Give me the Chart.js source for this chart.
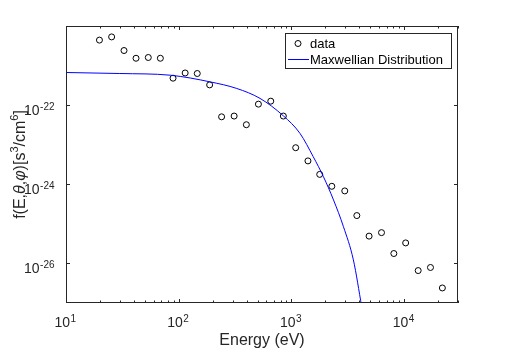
<!DOCTYPE html>
<html>
<head>
<meta charset="utf-8">
<script src="https://cdn.jsdelivr.net/npm/chart.js@4.4.1/dist/chart.umd.min.js"></script>
<style>
  html, body { margin: 0; padding: 0; background: #fff; }
  #wrap { width: 506px; height: 350px; }
</style>
</head>
<body>
<div id="wrap"><canvas id="chart" width="506" height="350"></canvas></div>
<script>
// measured points (eV, s^3/cm^6)
const energy = [19.8, 25.4, 32.7, 41.8, 53.7, 68.7, 89.0, 114, 146, 188, 240, 310, 398, 509, 655, 847,
  1090, 1400, 1780, 2280, 2970, 3800, 4880, 6290, 8090, 10300, 13300, 17100, 21800];
const flux = [4.4e-21, 5.3e-21, 2.4e-21, 1.53e-21, 1.6e-21, 1.53e-21, 4.8e-22, 6.5e-22, 6.3e-22, 3.25e-22,
  5.07e-23, 5.3e-23, 3.2e-23, 1.06e-22, 1.26e-22, 5.3e-23, 8.4e-24, 3.9e-24, 1.78e-24, 8.9e-25, 6.8e-25,
  1.62e-25, 4.9e-26, 6.0e-26, 1.78e-26, 3.3e-26, 6.6e-27, 7.9e-27, 2.4e-27];

// maxwellian curve
const fitEnergy = [10, 30, 84, 190, 327, 526, 847, 1190, 1560, 1920, 2360, 2890, 3540, 4200];
const fitFlux = [6.68e-22, 6.3e-22, 5.71e-22, 3.87e-22, 2.64e-22, 1.48e-22, 5.37e-23, 1.93e-23, 4.97e-24,
  1.56e-24, 4.02e-25, 8.5e-26, 1.23e-26, 8e-28];

const xTicks = [10, 100, 1000, 10000];
const xTickExp = ['1', '2', '3', '4'];
const yTicks = [1e-26, 1e-24, 1e-22];
const yTickExp = ['-26', '-24', '-22'];
const seriesNames = ['data', 'Maxwellian Distribution'];

const axisColor = '#262626';
const fontFam = '"Liberation Sans", Arial, Helvetica, sans-serif';

const toPoints = (xs, ys) => xs.map((x, i) => ({ x: x, y: ys[i] }));

// draws "10" with a raised exponent, anchored by align
let drawPower = (ctx, exp, x, y, align) => {
  ctx.font = '14px ' + fontFam;
  const wBase = ctx.measureText('10').width;
  ctx.font = '10px ' + fontFam;
  const wExp = ctx.measureText(exp).width;
  const total = wBase + wExp;
  let left = x;
  if (align === 'center') left = x - total / 2;
  if (align === 'right') left = x - total;
  ctx.textAlign = 'left';
  ctx.font = '14px ' + fontFam;
  ctx.fillText('10', left, y);
  ctx.font = '10px ' + fontFam;
  ctx.fillText(exp, left + wBase + 0.5, y - 5);
};

const matlabAxes = {
  id: 'matlabAxes',
  afterDraw(chart) {
    const ctx = chart.ctx;
    const a = chart.chartArea;
    const xs = chart.scales.x;
    const ys = chart.scales.y;
    ctx.save();
    ctx.strokeStyle = axisColor;
    ctx.fillStyle = axisColor;
    ctx.lineWidth = 1;

    // box
    ctx.strokeRect(Math.round(a.left) + 0.5, Math.round(a.top) + 0.5,
      Math.round(a.right - a.left) - 1, Math.round(a.bottom - a.top) - 1);

    // x ticks, major + minor, mirrored on top
    ctx.beginPath();
    xTicks.forEach(dec => {
      for (let m = 1; m <= 9; m++) {
        const v = dec * m;
        if (v > xs.max) break;
        const px = Math.round(xs.getPixelForValue(v)) + 0.5;
        const len = m === 1 ? 4 : 2.5;
        ctx.moveTo(px, a.bottom);
        ctx.lineTo(px, a.bottom - len);
        ctx.moveTo(px, a.top);
        ctx.lineTo(px, a.top + len);
      }
    });
    yTicks.forEach(v => {
      const py = Math.round(ys.getPixelForValue(v)) + 0.5;
      ctx.moveTo(a.left, py);
      ctx.lineTo(a.left + 4, py);
      ctx.moveTo(a.right, py);
      ctx.lineTo(a.right - 4, py);
    });
    ctx.stroke();

    // tick labels
    ctx.textBaseline = 'alphabetic';
    xTicks.forEach((v, i) => {
      drawPower(ctx, xTickExp[i], xs.getPixelForValue(v) - 1, a.bottom + 24, 'center');
    });
    yTicks.forEach((v, i) => {
      drawPower(ctx, yTickExp[i], a.left - 12, ys.getPixelForValue(v) + 10, 'right');
    });

    // x title
    ctx.font = '16px ' + fontFam;
    ctx.textAlign = 'center';
    ctx.fillText('Energy (eV)', (a.left + a.right) / 2, 345);

    // y title with superscripts
    const parts = [
      ['f(E,', 16, 0, ''], ['θ', 16, 0, 'italic '], [',', 16, 0, ''], ['φ', 16, 0, 'italic '],
      [')[s', 16, 0, ''], ['3', 11, 7, ''], ['/cm', 16, 0, ''], ['6', 11, 7, ''], [']', 16, 0, '']
    ];
    let totalW = 0;
    parts.forEach(p => {
      ctx.font = p[3] + p[1] + 'px ' + fontFam;
      p.push(ctx.measureText(p[0]).width);
      totalW += p[4];
    });
    ctx.translate(25, (a.top + a.bottom) / 2);
    ctx.rotate(-Math.PI / 2);
    ctx.textAlign = 'left';
    let cx = -totalW / 2;
    parts.forEach(p => {
      ctx.font = p[3] + p[1] + 'px ' + fontFam;
      ctx.fillText(p[0], cx, -p[2]);
      cx += p[4];
    });
    ctx.setTransform(1, 0, 0, 1, 0, 0);

    // legend box
    const lx = 285.5, ly = 33.5, lw = 166, lh = 35;
    ctx.fillStyle = '#fff';
    ctx.fillRect(lx, ly, lw, lh);
    ctx.strokeStyle = axisColor;
    ctx.strokeRect(lx, ly, lw, lh);
    ctx.beginPath();
    ctx.arc(298, 43.5, 3, 0, Math.PI * 2);
    ctx.strokeStyle = '#000';
    ctx.stroke();
    ctx.beginPath();
    ctx.strokeStyle = '#0000ff';
    ctx.moveTo(288, 59.5);
    ctx.lineTo(309, 59.5);
    ctx.stroke();
    ctx.fillStyle = '#000';
    ctx.font = '13px ' + fontFam;
    ctx.textAlign = 'left';
    ctx.fillText(seriesNames[0], 310, 48);
    ctx.fillText(seriesNames[1], 310, 64);
    ctx.restore();
  }
};

const ctx = document.getElementById('chart').getContext('2d');
const chart = new Chart(ctx, {
  type: 'line',
  data: {
    datasets: [
      {
        label: seriesNames[0],
        data: toPoints(energy, flux),
        showLine: false,
        pointStyle: 'circle',
        pointRadius: 3,
        pointBorderWidth: 1,
        pointBorderColor: '#000',
        pointBackgroundColor: 'rgba(0,0,0,0)',
        order: 2
      },
      {
        label: seriesNames[1],
        data: toPoints(fitEnergy, fitFlux),
        borderColor: '#0000ff',
        borderWidth: 1,
        pointRadius: 0,
        fill: false,
        cubicInterpolationMode: 'monotone',
        order: 1
      }
    ]
  },
  options: {
    responsive: false,
    animation: false,
    devicePixelRatio: 1,
    layout: { padding: { left: 66, right: 48, top: 26, bottom: 47 } },
    plugins: { legend: { display: false }, tooltip: { enabled: false } },
    scales: {
      x: { type: 'logarithmic', min: 10, max: 30000, display: false },
      y: { type: 'logarithmic', min: 1e-27, max: 1e-20, display: false }
    }
  },
  plugins: [matlabAxes]
});
</script>
</body>
</html>
